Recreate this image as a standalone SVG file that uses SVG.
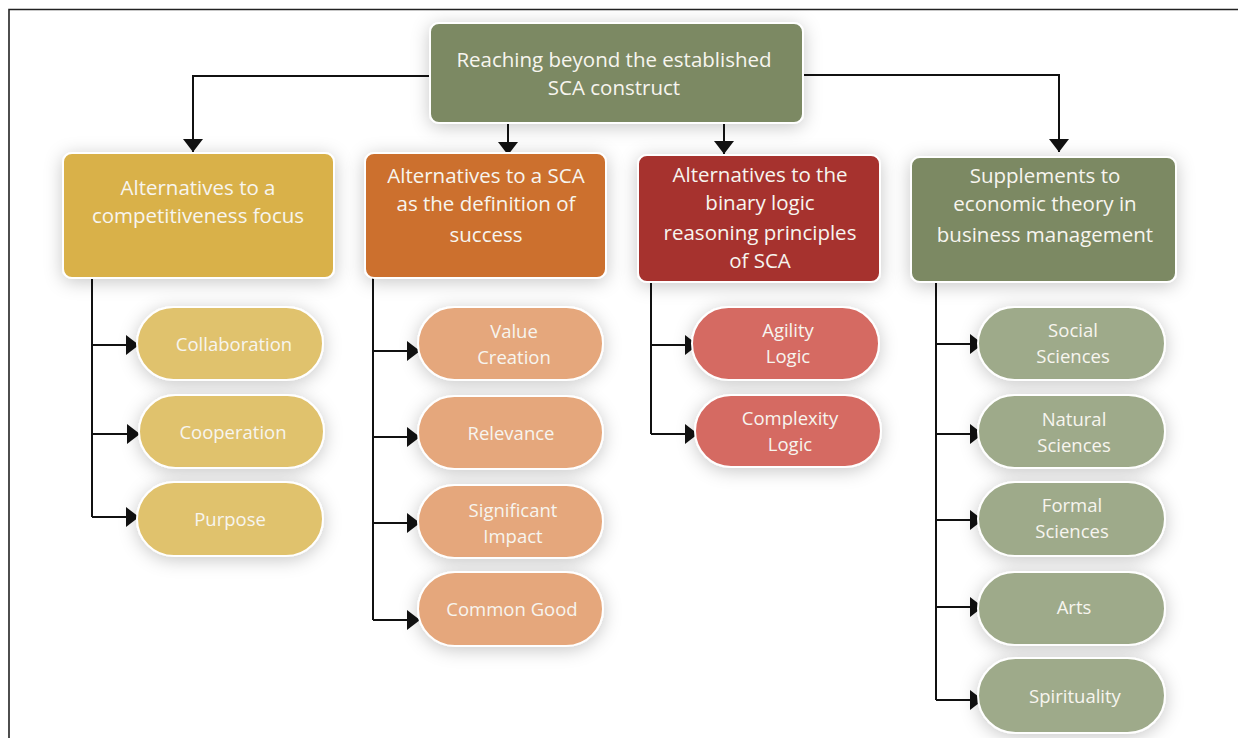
<svg xmlns="http://www.w3.org/2000/svg" width="1238" height="738" viewBox="0 0 1238 738">
<style>
.t{font-family:"Open Sans","Liberation Sans",sans-serif;fill:#f7f5ef;text-anchor:middle}
.h{font-size:20.5px}
.c{font-size:20.5px}
.p{font-size:18.5px}
.box{stroke:#ffffff;stroke-width:2;filter:url(#sh)}
.pill{stroke:#ffffff;stroke-width:2;filter:url(#sh)}
.ln{fill:none;stroke:#111;stroke-width:2}
</style>
<defs>
<filter id="sh" x="-30%" y="-40%" width="160%" height="180%">
<feDropShadow dx="0" dy="3" stdDeviation="9" flood-color="#000" flood-opacity="0.22"/>
</filter>
<marker id="ah" markerWidth="14" markerHeight="20" refX="13" refY="10" orient="auto" markerUnits="userSpaceOnUse">
<path d="M0,0 L13,10 L0,20 Z" fill="#111"/>
</marker>
</defs>
<rect width="1238" height="738" fill="#fff"/>
<path d="M9,738 V9.5 H1238" fill="none" stroke="#222" stroke-width="1.6"/>

<g id="connectors">
<path class="ln" d="M430,76 H193 V152" marker-end="url(#ah)"/>
<path class="ln" d="M803,75 H1059 V152" marker-end="url(#ah)"/>
<path class="ln" d="M508,123 V155" marker-end="url(#ah)"/>
<path class="ln" d="M724,123 V154" marker-end="url(#ah)"/>
<path class="ln" d="M92,278 V517"/>
<path class="ln" d="M92,345 H139" marker-end="url(#ah)"/>
<path class="ln" d="M92,434 H140" marker-end="url(#ah)"/>
<path class="ln" d="M92,517 H139" marker-end="url(#ah)"/>
<path class="ln" d="M373,278 V620"/>
<path class="ln" d="M373,351 H420" marker-end="url(#ah)"/>
<path class="ln" d="M373,437 H420" marker-end="url(#ah)"/>
<path class="ln" d="M373,523 H420" marker-end="url(#ah)"/>
<path class="ln" d="M373,620 H420" marker-end="url(#ah)"/>
<path class="ln" d="M651,282 V434"/>
<path class="ln" d="M651,345 H698" marker-end="url(#ah)"/>
<path class="ln" d="M651,434 H698" marker-end="url(#ah)"/>
<path class="ln" d="M936,282 V700"/>
<path class="ln" d="M936,344 H983" marker-end="url(#ah)"/>
<path class="ln" d="M936,434 H983" marker-end="url(#ah)"/>
<path class="ln" d="M936,520 H983" marker-end="url(#ah)"/>
<path class="ln" d="M936,607 H983" marker-end="url(#ah)"/>
<path class="ln" d="M936,700 H983" marker-end="url(#ah)"/>
</g>

<g id="root">
<rect class="box" x="430" y="23" width="373" height="100" rx="9" fill="#7b8963"/>
<text class="t h" x="614" y="67">Reaching beyond the established</text>
<text class="t h" x="614" y="95">SCA construct</text>
</g>

<g id="cat1">
<rect class="box" x="63" y="153" width="271" height="125" rx="9" fill="#d9b148"/>
<text class="t c" x="198" y="195">Alternatives to a</text>
<text class="t c" x="198" y="223">competitiveness focus</text>
</g>
<g id="cat2">
<rect class="box" x="365" y="153" width="241" height="125" rx="9" fill="#cc6f2e"/>
<text class="t c" x="486" y="183">Alternatives to a SCA</text>
<text class="t c" x="486" y="211">as the definition of</text>
<text class="t c" x="486" y="242">success</text>
</g>
<g id="cat3">
<rect class="box" x="638" y="155" width="242" height="127" rx="9" fill="#a6312e"/>
<text class="t c" x="760" y="182">Alternatives to the</text>
<text class="t c" x="760" y="210">binary logic</text>
<text class="t c" x="760" y="240">reasoning principles</text>
<text class="t c" x="760" y="268">of SCA</text>
</g>
<g id="cat4">
<rect class="box" x="911" y="157" width="265" height="125" rx="9" fill="#7b8963"/>
<text class="t c" x="1045" y="183">Supplements to</text>
<text class="t c" x="1045" y="211">economic theory in</text>
<text class="t c" x="1045" y="242">business management</text>
</g>

<g id="collaboration"><rect class="pill" x="137" y="307" width="186" height="73" rx="36.5" fill="#e0c26d"/><text class="t p" x="234" y="351">Collaboration</text></g>
<g id="cooperation"><rect class="pill" x="139" y="395" width="185" height="73" rx="36.5" fill="#e0c26d"/><text class="t p" x="233" y="439">Cooperation</text></g>
<g id="purpose"><rect class="pill" x="137" y="482" width="186" height="74" rx="37" fill="#e0c26d"/><text class="t p" x="230" y="526">Purpose</text></g>

<g id="value-creation"><rect class="pill" x="418" y="307" width="185" height="73" rx="36.5" fill="#e5a77b"/><text class="t p" x="514" y="338">Value</text><text class="t p" x="514" y="364">Creation</text></g>
<g id="relevance"><rect class="pill" x="418" y="396" width="185" height="73" rx="36.5" fill="#e5a77b"/><text class="t p" x="511" y="440">Relevance</text></g>
<g id="significant-impact"><rect class="pill" x="418" y="485" width="185" height="73" rx="36.5" fill="#e5a77b"/><text class="t p" x="513" y="517">Significant</text><text class="t p" x="513" y="543">Impact</text></g>
<g id="common-good"><rect class="pill" x="418" y="572" width="185" height="74" rx="37" fill="#e5a77b"/><text class="t p" x="512" y="616">Common Good</text></g>

<g id="agility"><rect class="pill" x="692" y="307" width="187" height="73" rx="36.5" fill="#d56a62"/><text class="t p" x="788" y="337">Agility</text><text class="t p" x="788" y="363">Logic</text></g>
<g id="complexity"><rect class="pill" x="695" y="395" width="186" height="72" rx="36" fill="#d56a62"/><text class="t p" x="790" y="425">Complexity</text><text class="t p" x="790" y="451">Logic</text></g>

<g id="social"><rect class="pill" x="978" y="307" width="187" height="73" rx="36.5" fill="#9eaa8a"/><text class="t p" x="1073" y="337">Social</text><text class="t p" x="1073" y="363">Sciences</text></g>
<g id="natural"><rect class="pill" x="978" y="395" width="187" height="73" rx="36.5" fill="#9eaa8a"/><text class="t p" x="1074" y="426">Natural</text><text class="t p" x="1074" y="452">Sciences</text></g>
<g id="formal"><rect class="pill" x="978" y="482" width="187" height="74" rx="37" fill="#9eaa8a"/><text class="t p" x="1072" y="512">Formal</text><text class="t p" x="1072" y="538">Sciences</text></g>
<g id="arts"><rect class="pill" x="978" y="572" width="187" height="73" rx="36.5" fill="#9eaa8a"/><text class="t p" x="1074" y="614">Arts</text></g>
<g id="spirituality"><rect class="pill" x="978" y="658" width="187" height="75" rx="37.5" fill="#9eaa8a"/><text class="t p" x="1075" y="703">Spirituality</text></g>
</svg>
